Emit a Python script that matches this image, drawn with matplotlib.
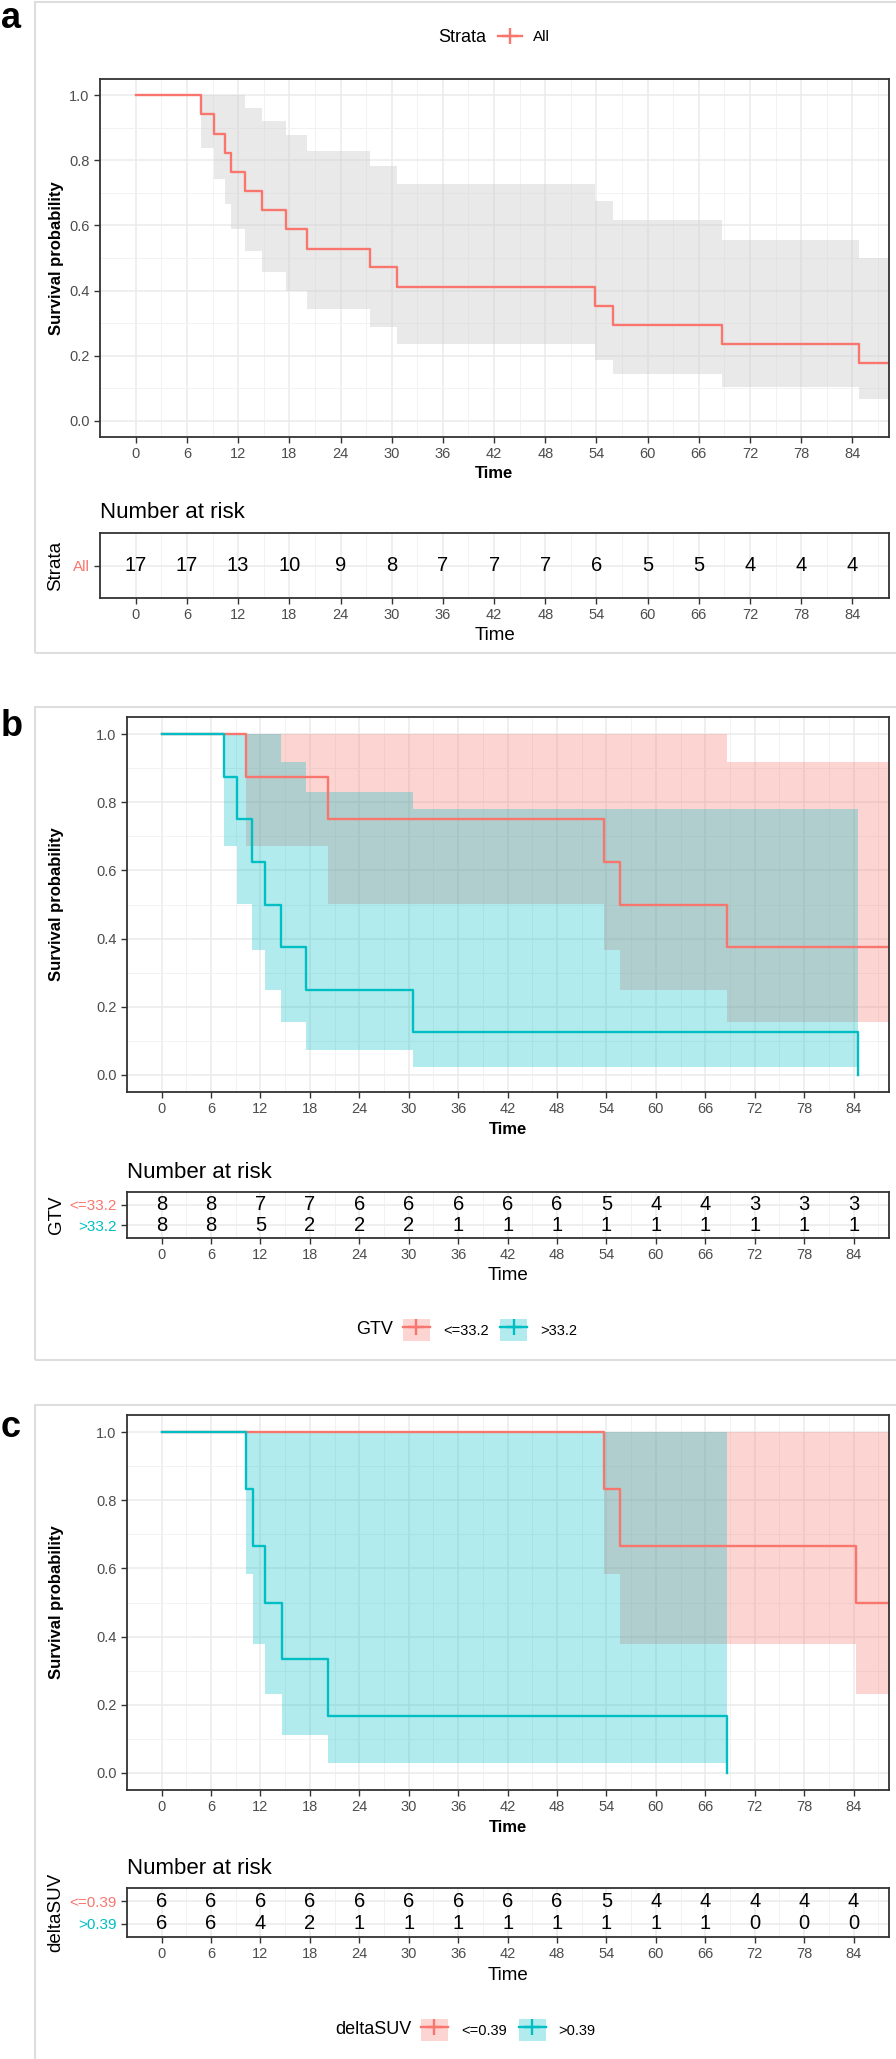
import matplotlib
matplotlib.use('Agg')
import matplotlib.pyplot as plt
from matplotlib.patches import Rectangle, Patch
from matplotlib.lines import Line2D
from matplotlib.ticker import FormatStrFormatter

plt.rcParams['font.family'] = ['Liberation Sans', 'DejaVu Sans']

RED = '#F8766D'
TEAL = '#00BFC4'
GRAY_FILL = '#CFCFCF'

# ---- data ----
risk_times = [0, 6, 12, 18, 24, 30, 36, 42, 48, 54, 60, 66, 72, 78, 84]

# panel a : all patients
a_t = [0, 7.6, 9.2, 10.4, 11.2, 12.8, 14.8, 17.6, 20.1, 27.5, 30.6, 53.8, 56.0, 68.7, 84.8]
a_s = [1.0, 0.941, 0.882, 0.824, 0.765, 0.706, 0.647, 0.588, 0.529, 0.471, 0.412, 0.353, 0.294, 0.235, 0.176]
a_ci_t = a_t[1:]
a_ci_hi = [1.0, 1.0, 1.0, 1.0, 0.961, 0.921, 0.877, 0.829, 0.782, 0.727, 0.675, 0.616, 0.556, 0.501]
a_ci_lo = [0.839, 0.744, 0.665, 0.589, 0.522, 0.458, 0.400, 0.344, 0.287, 0.236, 0.188, 0.145, 0.103, 0.067]
a_end = 90.0
a_risk = [17, 17, 13, 10, 9, 8, 7, 7, 7, 6, 5, 5, 4, 4, 4]

# panel b : GTV
b_lo_t = [0, 10.2, 20.2, 53.7, 55.7, 68.6]
b_lo_s = [1.0, 0.875, 0.75, 0.625, 0.5, 0.375]
b_lo_ci_t = b_lo_t[1:]
b_lo_ci_hi = [1.0, 1.0, 1.0, 1.0, 0.917]
b_lo_ci_lo = [0.673, 0.501, 0.366, 0.248, 0.155]
b_lo_end = 90.0
b_hi_t = [0, 7.6, 9.1, 11.0, 12.6, 14.5, 17.5, 30.5, 84.5]
b_hi_s = [1.0, 0.875, 0.75, 0.625, 0.5, 0.375, 0.25, 0.125, 0.0]
b_hi_ci_t = b_hi_t[1:-1]
b_hi_ci_hi = [1.0, 1.0, 1.0, 1.0, 0.917, 0.830, 0.781]
b_hi_ci_lo = [0.673, 0.501, 0.366, 0.248, 0.155, 0.073, 0.022]
b_hi_end = 84.5
b_labels = ['<=33.2', '>33.2']
b_risk_lo = [8, 8, 7, 7, 6, 6, 6, 6, 6, 5, 4, 4, 3, 3, 3]
b_risk_hi = [8, 8, 5, 2, 2, 2, 1, 1, 1, 1, 1, 1, 1, 1, 1]

# panel c : deltaSUV
c_lo_t = [0, 53.7, 55.7, 84.3]
c_lo_s = [1.0, 0.833, 0.667, 0.5]
c_lo_ci_t = c_lo_t[1:]
c_lo_ci_hi = [1.0, 1.0, 1.0]
c_lo_ci_lo = [0.584, 0.379, 0.231]
c_lo_end = 90.0
c_hi_t = [0, 10.3, 11.1, 12.6, 14.6, 20.2, 68.6]
c_hi_s = [1.0, 0.833, 0.667, 0.5, 0.333, 0.167, 0.0]
c_hi_ci_t = c_hi_t[1:-1]
c_hi_ci_hi = [1.0, 1.0, 1.0, 1.0, 1.0]
c_hi_ci_lo = [0.584, 0.379, 0.231, 0.112, 0.029]
c_hi_end = 68.6
c_labels = ['<=0.39', '>0.39']
c_risk_lo = [6, 6, 6, 6, 6, 6, 6, 6, 6, 5, 4, 4, 4, 4, 4]
c_risk_hi = [6, 6, 4, 2, 1, 1, 1, 1, 1, 1, 1, 1, 0, 0, 0]

W, H = 896, 2059
fig = plt.figure(figsize=(W / 100, H / 100), dpi=100)
XLIM = (-4.2, 88.3)


def add_ax(x0, y0, x1, y1):
    return fig.add_axes([x0 / W, 1 - y1 / H, (x1 - x0) / W, (y1 - y0) / H])


def ftext(x, y, s, **kw):
    fig.text(x / W, 1 - y / H, s, **kw)


def frame(x0, y0, x1, y1):
    fig.add_artist(Rectangle((x0 / W, 1 - y1 / H), (x1 - x0) / W, (y1 - y0) / H,
                             transform=fig.transFigure, fill=False,
                             ec='#DEDEDE', lw=1.5))


def base_style(ax):
    ax.set_xlim(*XLIM)
    ax.set_xticks(risk_times)
    ax.set_xticks([t + 3 for t in risk_times], minor=True)
    ax.grid(which='major', color='#EBEBEB', lw=1.1)
    ax.grid(which='minor', axis='x', color='#F2F2F2', lw=0.7)
    ax.set_axisbelow(True)
    for sp in ax.spines.values():
        sp.set_color('#333333')
        sp.set_linewidth(1.3)
    ax.tick_params(which='major', length=4, width=1, color='#333333',
                   labelsize=10.5, labelcolor='#4D4D4D')
    ax.tick_params(which='minor', length=0)


def km_style(ax, left, top, right, bottom):
    base_style(ax)
    ax.set_ylim(-0.05, 1.05)
    ax.set_yticks([0, 0.2, 0.4, 0.6, 0.8, 1.0])
    ax.set_yticks([0.1, 0.3, 0.5, 0.7, 0.9], minor=True)
    ax.grid(which='minor', axis='y', color='#F2F2F2', lw=0.7)
    ax.yaxis.set_major_formatter(FormatStrFormatter('%.1f'))
    ftext(56, (top + bottom) / 2, 'Survival probability', rotation=90,
          ha='center', va='center', fontsize=12, fontweight='bold')


def draw_group(ax, t, s, t_end, ci_t, ci_lo, ci_hi, ci_end, color, fill, alpha):
    xs = list(ci_t) + [ci_end]
    ax.fill_between(xs, list(ci_lo) + [ci_lo[-1]], list(ci_hi) + [ci_hi[-1]],
                    step='post', color=fill, alpha=alpha, lw=0, ec='none')
    ax.step(list(t) + [t_end], list(s) + [s[-1]], where='post', color=color, lw=1.7)


def risk_table(ax, rows, labels, colors, ylabel, left, top, right, bottom):
    base_style(ax)
    n = len(rows)
    ax.set_ylim(0.4, n + 0.6)
    ax.set_yticks(range(1, n + 1))
    ax.set_yticklabels(labels[::-1], fontsize=11)
    for lbl, c in zip(ax.get_yticklabels(), colors[::-1]):
        lbl.set_color(c)
    for i, row in enumerate(rows):
        y = n - i
        for t, v in zip(risk_times, row):
            ax.text(t, y, str(v), ha='center', va='center', fontsize=14.5)
    ftext(left, top - 20, 'Number at risk', ha='left', va='center', fontsize=16)
    ftext((left + right) / 2, bottom + 38, 'Time', ha='center', va='center', fontsize=13.5)
    ftext(56, (top + bottom) / 2, ylabel, rotation=90, ha='center', va='center',
          fontsize=13.5)


def group_legend(title, labels, y, x_title_right):
    ftext(x_title_right, y, title, ha='right', va='center', fontsize=13)
    handles = [(Patch(fc=RED, alpha=0.3, lw=0),
                Line2D([], [], color=RED, lw=1.7, marker='+', ms=11, mew=1.7)),
               (Patch(fc=TEAL, alpha=0.3, lw=0),
                Line2D([], [], color=TEAL, lw=1.7, marker='+', ms=11, mew=1.7))]
    fig.legend(handles, labels, loc='center left',
               bbox_to_anchor=((x_title_right + 10) / W, 1 - y / H),
               ncol=2, frameon=False, fontsize=10.5, borderpad=0, borderaxespad=0,
               handlelength=1.85, handleheight=1.9, handletextpad=0.9,
               columnspacing=0.8)


# ---------------- panel a ----------------
frame(35, 2, 905, 653)
ftext(1, 1, 'a', ha='left', va='top', fontsize=26, fontweight='bold')
ax = add_ax(100, 79, 889, 437)
km_style(ax, 100, 79, 889, 437)
ax.fill_between(list(a_ci_t) + [a_end], list(a_ci_lo) + [a_ci_lo[-1]],
                list(a_ci_hi) + [a_ci_hi[-1]], step='post', color=GRAY_FILL,
                alpha=0.45, lw=0, ec='none')
ax.step(list(a_t) + [a_end], list(a_s) + [a_s[-1]], where='post', color=RED, lw=1.7)
ftext(494, 473, 'Time', ha='center', va='center', fontsize=12, fontweight='bold')

ftext(486, 37, 'Strata', ha='right', va='center', fontsize=13)
fig.legend([Line2D([], [], color=RED, lw=1.7, marker='+', ms=11, mew=1.7)], ['All'],
           loc='center left', bbox_to_anchor=(498 / W, 1 - 37 / H), frameon=False,
           fontsize=11, borderpad=0, borderaxespad=0, handlelength=1.6,
           handletextpad=0.7)

rax = add_ax(100, 533, 889, 598)
risk_table(rax, [a_risk], ['All'], [RED], 'Strata', 100, 533, 889, 598)

# ---------------- panel b ----------------
frame(35, 707, 905, 1360)
ftext(1, 709, 'b', ha='left', va='top', fontsize=26, fontweight='bold')
ax = add_ax(127, 717, 889, 1092)
km_style(ax, 127, 717, 889, 1092)
draw_group(ax, b_lo_t, b_lo_s, b_lo_end, b_lo_ci_t, b_lo_ci_lo, b_lo_ci_hi,
           b_lo_end, RED, RED, 0.3)
draw_group(ax, b_hi_t, b_hi_s, b_hi_end, b_hi_ci_t, b_hi_ci_lo, b_hi_ci_hi,
           b_hi_end, TEAL, TEAL, 0.3)
ftext(508, 1130, 'Time', ha='center', va='center', fontsize=12, fontweight='bold')

rax = add_ax(127, 1192, 889, 1238)
risk_table(rax, [b_risk_lo, b_risk_hi], b_labels, [RED, TEAL], 'GTV',
           127, 1192, 889, 1238)
group_legend('GTV', b_labels, 1330, 393)

# ---------------- panel c ----------------
frame(35, 1405, 905, 2080)
ftext(1, 1410, 'c', ha='left', va='top', fontsize=26, fontweight='bold')
ax = add_ax(127, 1415, 889, 1790)
km_style(ax, 127, 1415, 889, 1790)
draw_group(ax, c_lo_t, c_lo_s, c_lo_end, c_lo_ci_t, c_lo_ci_lo, c_lo_ci_hi,
           c_lo_end, RED, RED, 0.3)
draw_group(ax, c_hi_t, c_hi_s, c_hi_end, c_hi_ci_t, c_hi_ci_lo, c_hi_ci_hi,
           c_hi_end, TEAL, TEAL, 0.3)
ftext(508, 1828, 'Time', ha='center', va='center', fontsize=12, fontweight='bold')

rax = add_ax(127, 1888, 889, 1937)
risk_table(rax, [c_risk_lo, c_risk_hi], c_labels, [RED, TEAL], 'deltaSUV',
           127, 1888, 889, 1937)
group_legend('deltaSUV', c_labels, 2030, 411)

fig.savefig('out.png', dpi=100)
